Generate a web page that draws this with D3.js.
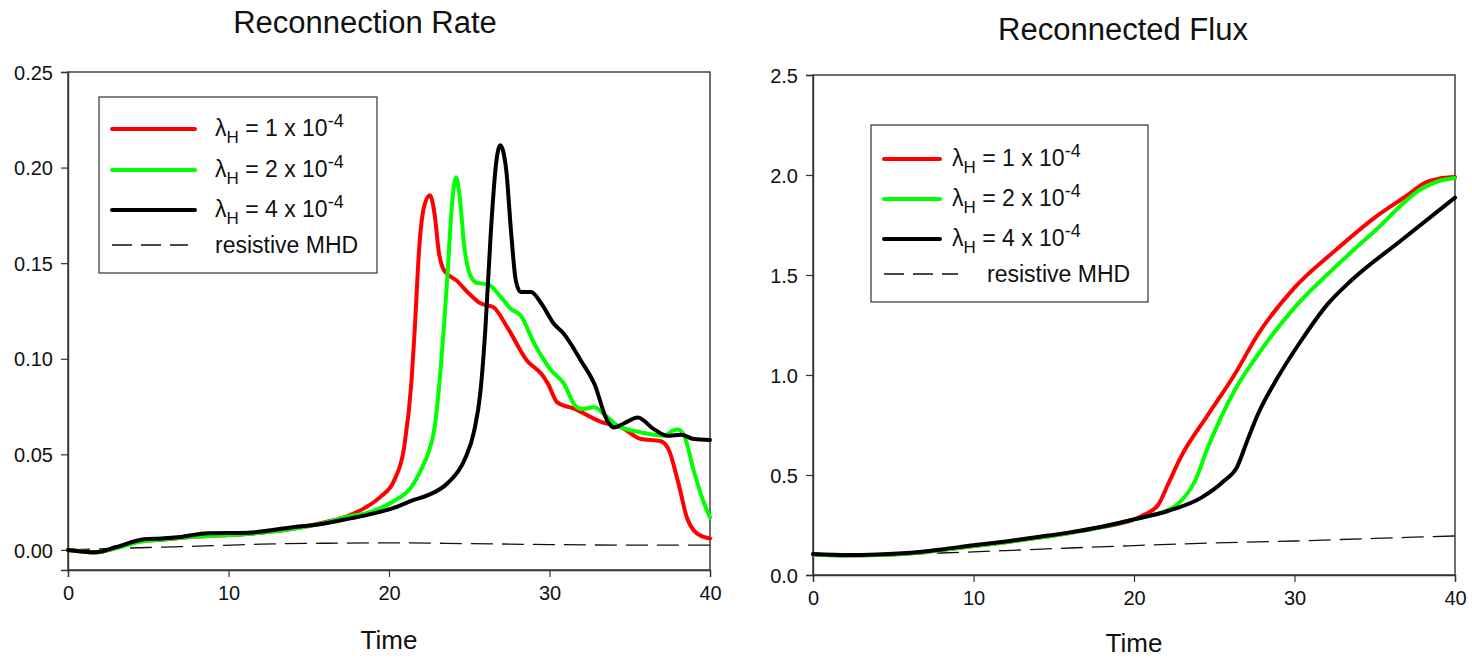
<!DOCTYPE html>
<html>
<head>
<meta charset="utf-8">
<script src="https://cdn.jsdelivr.net/npm/d3@7"></script>
<style>
  body { margin: 0; background: #fff; }
  svg { display: block; font-family: "Liberation Sans", Arial, sans-serif; }
</style>
</head>
<body>
<div id="chart"></div>
<script>
// ---- Reconnection Rate (left panel) ----
const rateRedT   = [0, 1, 1.7, 3, 4.5, 6, 8, 10, 12, 14, 16, 17.5, 18.5, 19.5, 20.3, 20.95, 21.4, 21.6, 21.9, 22.2, 22.55, 22.85, 23.1, 23.45, 24.2, 25.0, 25.7, 26.5, 27.4, 28.6, 29.5, 29.9, 30.5, 31.5, 33.2, 34.5, 35.7, 36.9, 37.4, 38.0, 38.6, 39.4, 40];
const rateRedV   = [0, -0.0008, -0.0014, 0.001, 0.0045, 0.0055, 0.007, 0.0078, 0.009, 0.011, 0.0145, 0.018, 0.022, 0.028, 0.036, 0.054, 0.088, 0.115, 0.16, 0.18, 0.1855, 0.175, 0.156, 0.146, 0.141, 0.134, 0.129, 0.127, 0.116, 0.099, 0.092, 0.087, 0.077, 0.074, 0.067, 0.064, 0.058, 0.057, 0.053, 0.036, 0.016, 0.0075, 0.006];
const rateGreenT = [0, 1.7, 3, 4.5, 6, 8, 10, 12, 14, 16, 17.5, 18.7, 19.5, 20.3, 21.4, 22.0, 22.5, 22.8, 23.0, 23.24, 23.45, 23.66, 23.9, 24.17, 24.4, 24.7, 25.1, 25.5, 26.15, 27.0, 27.6, 28.2, 29.05, 30.1, 30.9, 31.55, 31.96, 32.8, 33.4, 34.25, 35.7, 37.15, 37.7, 38.0, 38.4, 39.0, 39.65, 40];
const rateGreenV = [0, -0.0012, 0.001, 0.0043, 0.0055, 0.007, 0.0078, 0.009, 0.011, 0.0142, 0.0175, 0.0195, 0.022, 0.0256, 0.033, 0.042, 0.052, 0.062, 0.075, 0.097, 0.12, 0.146, 0.178, 0.195, 0.185, 0.158, 0.143, 0.1396, 0.139, 0.132, 0.126, 0.1226, 0.108, 0.094, 0.087, 0.076, 0.0737, 0.0746, 0.071, 0.065, 0.0615, 0.0597, 0.0625, 0.063, 0.0597, 0.041, 0.024, 0.017];
const rateBlackT = [0, 1.7, 3, 4.75, 5.8, 7, 8.7, 11.2, 14.1, 15.8, 17.6, 19, 20.3, 21.5, 22.4, 23.66, 24.7, 25.3, 25.7, 26.0, 26.35, 26.67, 26.93, 27.3, 27.6, 27.9, 28.2, 28.85, 29.5, 30.3, 30.9, 31.96, 32.8, 33.6, 34.0, 34.6, 35.5, 36.5, 37.37, 38.2, 39.0, 40];
const rateBlackV = [0, -0.0012, 0.0015, 0.0056, 0.006, 0.0068, 0.0087, 0.009, 0.012, 0.0136, 0.0165, 0.019, 0.022, 0.026, 0.0285, 0.035, 0.047, 0.062, 0.083, 0.115, 0.167, 0.202, 0.2117, 0.199, 0.167, 0.141, 0.1349, 0.1349, 0.1288, 0.118, 0.113, 0.099, 0.0868, 0.0676, 0.064, 0.066, 0.0693, 0.0632, 0.0597, 0.0603, 0.058, 0.0575];
const rateMhdT   = [0, 3, 6, 9, 12, 16, 20, 25, 30, 35, 40];
const rateMhdV   = [0, 0.0008, 0.0015, 0.0022, 0.003, 0.0035, 0.0037, 0.0033, 0.0028, 0.0025, 0.0025];

// ---- Reconnected Flux (right panel) ----
const fluxRedT   = [0, 2.2, 4, 6.3, 8, 10, 12, 14, 16, 17.9, 20, 20.6, 21.5, 22.1, 22.9, 24.6, 26.25, 27.7, 30, 32.5, 35, 37.05, 38.1, 39, 40];
const fluxRedV   = [0.103, 0.098, 0.1, 0.11, 0.125, 0.145, 0.164, 0.186, 0.21, 0.238, 0.278, 0.3, 0.35, 0.45, 0.587, 0.8, 1.0, 1.2, 1.437, 1.62, 1.787, 1.9, 1.96, 1.982, 1.99];
const fluxGreenT = [0, 2.2, 4, 6.3, 8, 10, 12, 14, 16, 17.9, 20, 21.27, 22.7, 23.8, 24.6, 26.25, 27.7, 30, 32.5, 35, 37.9, 39, 40];
const fluxGreenV = [0.103, 0.098, 0.1, 0.11, 0.125, 0.145, 0.164, 0.186, 0.21, 0.238, 0.278, 0.302, 0.353, 0.47, 0.637, 0.92, 1.1, 1.337, 1.537, 1.72, 1.93, 1.97, 1.985];
const fluxBlackT = [0, 2.2, 4, 6.3, 8, 10, 12, 14, 16, 17.9, 20, 22.1, 24.2, 25.6, 26.4, 27.05, 27.7, 28.95, 30.4, 32.05, 33.5, 36.6, 40];
const fluxBlackV = [0.105, 0.1, 0.103, 0.113, 0.128, 0.149, 0.168, 0.19, 0.213, 0.24, 0.278, 0.32, 0.387, 0.47, 0.537, 0.67, 0.8, 0.987, 1.17, 1.353, 1.47, 1.67, 1.887];
const fluxMhdT   = [0, 4, 8, 12, 16, 20, 25, 30, 35, 40];
const fluxMhdV   = [0.1, 0.102, 0.11, 0.122, 0.135, 0.147, 0.16, 0.17, 0.183, 0.195];

const xTicks = [0, 10, 20, 30, 40];
const rateTicks = [0, 0.05, 0.10, 0.15, 0.20, 0.25];
const fluxTicks = [0, 0.5, 1.0, 1.5, 2.0, 2.5];
const legendCoeffs = ["1", "2", "4"];
const seriesColors = ["#ff0000", "#00ff00", "#000000"];

const zip = (ts, vs) => ts.map((t, i) => [t, vs[i]]);

const W = 1472, H = 658;
const svg = d3.select("#chart").append("svg")
    .attr("width", W)
    .attr("height", H);

function drawPanel(cfg) {
    const x = d3.scaleLinear().domain([0, 40]).range([cfg.left, cfg.right]);
    const y = d3.scaleLinear().domain(cfg.yDomain).range([cfg.bottom, cfg.top]);
    const g = svg.append("g");

    // frame
    g.append("rect")
        .attr("x", cfg.left).attr("y", cfg.top)
        .attr("width", cfg.right - cfg.left).attr("height", cfg.bottom - cfg.top)
        .attr("fill", "none").attr("stroke", "#333").attr("stroke-width", 1.4);

    const xAxis = g.append("g")
        .attr("transform", `translate(0,${cfg.bottom})`)
        .call(d3.axisBottom(x).tickValues(xTicks).tickSize(7).tickPadding(9).tickFormat(d3.format("d")));
    const yAxis = g.append("g")
        .attr("transform", `translate(${cfg.left},0)`)
        .call(d3.axisLeft(y).tickValues(cfg.yTicks).tickSize(7).tickPadding(8).tickFormat(d3.format(cfg.yFormat)));
    [xAxis, yAxis].forEach(a => {
        a.select(".domain").attr("stroke", "#333").attr("stroke-width", 1.4);
        a.selectAll(".tick line").attr("stroke", "#333").attr("stroke-width", 1.2);
        a.selectAll(".tick text").attr("fill", "#111").style("font-size", "20px")
            .style("font-family", '"Liberation Sans", Arial, sans-serif');
    });
    yAxis.selectAll(".tick text").attr("dy", "0.36em");

    const line = d3.line()
        .x(d => x(d[0]))
        .y(d => y(d[1]))
        .curve(d3.curveMonotoneX);

    g.append("path")
        .datum(cfg.mhd)
        .attr("d", line)
        .attr("fill", "none").attr("stroke", "#111")
        .attr("stroke-width", 1.3).attr("stroke-dasharray", "22,9");

    cfg.series.forEach((s, i) => {
        g.append("path")
            .datum(s)
            .attr("d", line)
            .attr("fill", "none")
            .attr("stroke", seriesColors[i])
            .attr("stroke-width", 4)
            .attr("stroke-linejoin", "round")
            .attr("stroke-linecap", "round");
    });

    // titles
    svg.append("text")
        .attr("x", cfg.titleX).attr("y", cfg.titleY)
        .attr("text-anchor", "middle")
        .style("font-size", "31px").attr("fill", "#111")
        .text(cfg.title);
    svg.append("text")
        .attr("x", (cfg.left + cfg.right) / 2).attr("y", cfg.timeY)
        .attr("text-anchor", "middle")
        .style("font-size", "26px").attr("fill", "#111")
        .text("Time");

    // legend
    const L = cfg.legend;
    const lg = svg.append("g");
    lg.append("rect")
        .attr("x", L.x).attr("y", L.y).attr("width", L.w).attr("height", L.h)
        .attr("fill", "#fff").attr("stroke", "#333").attr("stroke-width", 1.2);
    legendCoeffs.forEach((c, i) => {
        const ly = L.rows[i];
        lg.append("line")
            .attr("x1", L.lineX1).attr("x2", L.lineX2)
            .attr("y1", ly).attr("y2", ly)
            .attr("stroke", seriesColors[i]).attr("stroke-width", 4)
            .attr("stroke-linecap", "round");
        const t = lg.append("text")
            .attr("x", L.textX).attr("y", ly + 7)
            .style("font-size", "23px").attr("fill", "#111");
        t.append("tspan").text("λ");
        t.append("tspan").attr("dy", 7).style("font-size", "17px").text("H");
        t.append("tspan").attr("dy", -7).text(` = ${c} x 10`);
        t.append("tspan").attr("dy", -9).style("font-size", "18px").text("-4");
    });
    const dy = L.rows[3];
    lg.append("line")
        .attr("x1", L.lineX1).attr("x2", L.dashX2)
        .attr("y1", dy).attr("y2", dy)
        .attr("stroke", "#111").attr("stroke-width", 1.3)
        .attr("stroke-dasharray", "20,9");
    lg.append("text")
        .attr("x", L.dashTextX).attr("y", dy + 8)
        .style("font-size", "23px").attr("fill", "#111")
        .text("resistive MHD");
}

drawPanel({
    left: 68, right: 710, top: 72, bottom: 570,
    yDomain: [-0.0105, 0.25], yTicks: rateTicks, yFormat: ".2f",
    series: [zip(rateRedT, rateRedV), zip(rateGreenT, rateGreenV), zip(rateBlackT, rateBlackV)],
    mhd: zip(rateMhdT, rateMhdV),
    title: "Reconnection Rate", titleX: 365, titleY: 33, timeY: 649,
    legend: { x: 99, y: 97, w: 278, h: 176, rows: [129, 170, 210, 245],
              lineX1: 112, lineX2: 195, dashX2: 188, textX: 215, dashTextX: 215 }
});

drawPanel({
    left: 813, right: 1455, top: 75, bottom: 575,
    yDomain: [0, 2.5], yTicks: fluxTicks, yFormat: ".1f",
    series: [zip(fluxRedT, fluxRedV), zip(fluxGreenT, fluxGreenV), zip(fluxBlackT, fluxBlackV)],
    mhd: zip(fluxMhdT, fluxMhdV),
    title: "Reconnected Flux", titleX: 1123, titleY: 40, timeY: 652,
    legend: { x: 871, y: 125, w: 277, h: 177, rows: [159, 199, 239, 274],
              lineX1: 884, lineX2: 940, dashX2: 958, textX: 952, dashTextX: 987 }
});
</script>
</body>
</html>
